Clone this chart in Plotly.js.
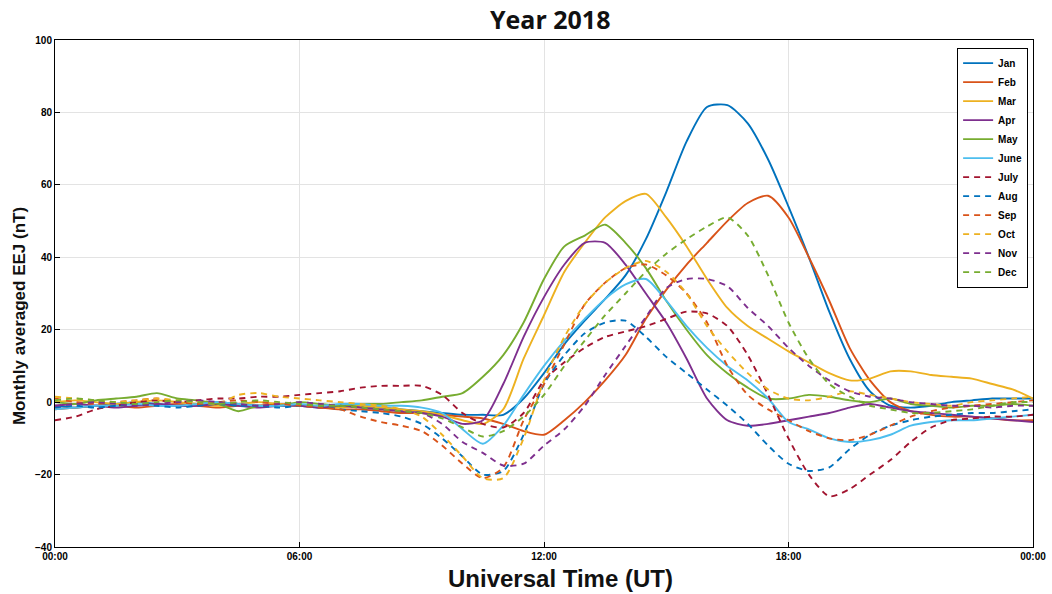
<!DOCTYPE html>
<html>
<head>
<meta charset="utf-8">
<script src="https://cdn.plot.ly/plotly-3.0.1.min.js"></script>
<style>
  html, body { margin: 0; padding: 0; background: #ffffff; }
  #chart { width: 1052px; height: 594px; }
</style>
</head>
<body>
<div id="chart"></div>
<script>
// Universal time, hours (half-hour steps)
const hours = [0,0.5,1,1.5,2,2.5,3,3.5,4,4.5,5,5.5,6,6.5,7,7.5,8,8.5,9,9.5,10,10.5,11,11.5,12,12.5,13,13.5,14,14.5,15,15.5,16,16.5,17,17.5,18,18.5,19,19.5,20,20.5,21,21.5,22,22.5,23,23.5,24];

const months = ["Jan","Feb","Mar","Apr","May","June","July","Aug","Sep","Oct","Nov","Dec"];

// Monthly averaged EEJ (nT)
const jan  = [-1,-1.5,-1,-0.5,0,-0.5,-1,-0.5,0,-0.5,-1,-1,-1,-1.5,-1,-1,-1.5,-2,-2.5,-3,-3.5,-3.5,-3.5,1,8,16,22.5,28.5,35,45,58,72,81.5,82,77,67,54,40,25,12,3,-1,-1.5,-1,0,0.5,1,1,1];
const feb  = [-2,-1.5,-1,-1,-1.5,-1,-0.5,-1,-1.5,-1,-1,-0.5,-1,-1.5,-2,-2,-2.5,-3,-3,-3.5,-4,-4.5,-6,-8,-9,-5,0,6,13,23,31,38,44,50,55,57,51,40,28,15,6,0,-2.5,-3.5,-4,-4,-4.5,-5,-5];
const mar  = [0,0.5,0,-0.5,0,0.5,0,-0.5,-1,-0.5,0,-0.5,-1,-1,-1.5,-1,-1.5,-2,-2.5,-3.5,-5,-6,-2,12,24,36,44,51,55.5,57.5,51,43,34,26,21,17.5,14,11,8,6,6.5,8.5,8.5,7.5,7,6.5,5,3.5,1];
const apr  = [-1,-0.5,-1,-1.5,-1,-0.5,-1,-1,-0.5,-1,-1.5,-1,-1,-1.5,-1,-1.5,-2,-2.5,-3,-4,-6,-5,5,18,29,38,44,44,38,30,22,12,1,-5,-6.5,-6,-5,-4,-3,-1.5,-0.5,-1.5,-2.5,-3,-3.5,-4,-4.5,-5,-5.5];
const may  = [0,-0.5,0.5,1,1.5,2.5,1,0.5,-0.5,-2.5,-1,-1,0,-0.5,-1,-0.5,-0.5,0,0.5,1.5,2.5,7,13,22,34,43,46,49,44,37,28,20,13,8,4,1,1,2,1.5,0.5,0,1,-0.5,-1,-1.5,-1,-1,-0.5,-1];
const jun  = [-2,-1.5,-1,-1,-0.5,-1,-1,-0.5,0,-0.5,-1,-1,-0.5,-1,-0.5,-0.5,-1,-1,-1.5,-3,-7.5,-11.5,-6.5,2,10,17,23,28.5,32.5,34,28,21,15,10,6,1,-5.5,-7.5,-10,-11,-10.5,-9,-6.5,-5.5,-5,-5,-4.5,-4,-3.5];
const jul  = [-5,-4,-2,-1,0,0.5,0,0.5,1,1,1.5,1.5,2,2.5,3,4,4.5,4.5,4.5,2,-3,-6,-7,-3,6,11,15,18,19.5,21,23,25,24.5,21,13,2,-10,-20,-26,-24,-20,-16,-11,-7,-5,-4.5,-4,-4,-3.5];
const aug  = [-1.5,-1,-1.5,-1,-0.5,-1,-1.5,-1,-0.5,-1,-1,-1.5,-1,-1,-2,-2.5,-3,-4,-6,-10,-15,-20,-19,-9,5,13,19,22,22.5,18,12.5,8,3.5,-1,-6,-12,-17,-19,-18,-13,-9,-6.5,-5,-4,-3.5,-3,-3,-2.5,-2];
const sep  = [1,0,-0.5,0,0.5,1,0,-0.5,0,0.5,0,-0.5,-1,-1.5,-2,-4,-5.5,-6.5,-8,-12,-17,-21,-18,-5,5,16,27,33,37,38,35,30,22,10,2,-2,-5,-8,-10,-10.5,-9,-6.5,-4,-2.5,-1.5,-1,-0.5,0,0.5];
const oct  = [1.5,1,0.5,0,0.5,1,0.5,0,-0.5,2,2.5,1.5,1,0.5,0,-0.5,-1,-2,-4,-9,-15,-21,-21,-10,6,18,27,33,37,39,36,30,21,14,8,3.5,1,0.5,1.5,3,2,1,0,-0.5,-1,0,0.5,1,1.5];
const nov  = [-1,-0.5,0,-0.5,-1,-0.5,0,0.5,0,-0.5,-1,-0.5,0,-0.5,-1,-1.5,-2,-2.5,-3,-6,-11,-14,-17.5,-17,-12,-7.5,-1,7.5,15.5,23.5,31.5,34,34,32,26,21,15,10,6,3,1.5,1,0,-0.5,-1,-1,-1.5,-1,-1];
const dec  = [0.5,1,0.5,0,-0.5,0,0.5,0,-0.5,0,0.5,0,-0.5,-1,-1,-1.5,-2,-2.5,-3,-4.5,-7,-9.5,-8,-4,2,10,17,24,30,36,41,45,48.5,51,46,35,22,12,5,1.5,-1,-2,-3,-3,-2.5,-2,-1,0,0];

const series = [jan, feb, mar, apr, may, jun, jul, aug, sep, oct, nov, dec];
const colors = ["#0072BD","#D95319","#EDB120","#7E2F8E","#77AC30","#4DBEEE","#A2142F",
                "#0072BD","#D95319","#EDB120","#7E2F8E","#77AC30"];

const xTickVals = [0, 6, 12, 18, 24];
const xTickText = ["00:00","06:00","12:00","18:00","00:00"];
const yTickVals = [-40,-20,0,20,40,60,80,100];

const traces = series.map((vals, i) => ({
  type: "scatter",
  mode: "lines",
  name: months[i],
  x: hours,
  y: vals,
  line: {
    color: colors[i],
    width: 1.9,
    shape: "spline",
    smoothing: 0.7,
    dash: i < 6 ? "solid" : "6px,5px"
  }
}));

const fontFam = "Arial, 'Liberation Sans', Helvetica, sans-serif";

const layout = {
  width: 1052,
  height: 594,
  margin: { l: 55, r: 19, t: 40, b: 47 },
  paper_bgcolor: "#ffffff",
  plot_bgcolor: "#ffffff",
  font: { family: fontFam, color: "#000000" },
  title: {
    text: "Year 2018",
    font: { family: "'Open Sans', Arial, sans-serif", size: 25, weight: "bold", color: "#111111" },
    x: 0.523, xref: "container", xanchor: "center",
    y: 0.966, yref: "container", yanchor: "middle"
  },
  xaxis: {
    range: [0, 24],
    tickvals: xTickVals,
    ticktext: xTickText,
    tickfont: { family: fontFam, size: 10, weight: "bold" },
    showline: true, mirror: true, linecolor: "#000000", linewidth: 1,
    ticks: "inside", ticklen: 5, tickcolor: "#000000",
    showgrid: true, gridcolor: "#e3e3e3", gridwidth: 1,
    zeroline: false
  },
  yaxis: {
    range: [-40, 100],
    tickvals: yTickVals,
    tickfont: { family: fontFam, size: 10, weight: "bold" },
    showline: true, mirror: true, linecolor: "#000000", linewidth: 1,
    ticks: "inside", ticklen: 5, tickcolor: "#000000",
    showgrid: true, gridcolor: "#e3e3e3", gridwidth: 1,
    zeroline: false
  },
  annotations: [
    {
      text: "Universal Time (UT)",
      xref: "paper", yref: "paper",
      x: 0.517, y: -0.062,
      xanchor: "center", yanchor: "middle",
      showarrow: false,
      font: { family: fontFam, size: 24, weight: "bold", color: "#111111" }
    },
    {
      text: "Monthly averaged EEJ (nT)",
      xref: "paper", yref: "paper",
      x: -0.036, y: 0.455,
      xanchor: "center", yanchor: "middle",
      textangle: -90,
      showarrow: false,
      font: { family: fontFam, size: 17, weight: "bold", color: "#111111" }
    }
  ],
  showlegend: true,
  legend: {
    x: 0.995, xanchor: "right",
    y: 0.985, yanchor: "top",
    bgcolor: "#ffffff",
    bordercolor: "#000000",
    borderwidth: 1,
    font: { family: fontFam, size: 10, weight: "bold" },
    tracegroupgap: 0
  }
};

Plotly.newPlot("chart", traces, layout, { staticPlot: true, displayModeBar: false });
</script>
</body>
</html>
